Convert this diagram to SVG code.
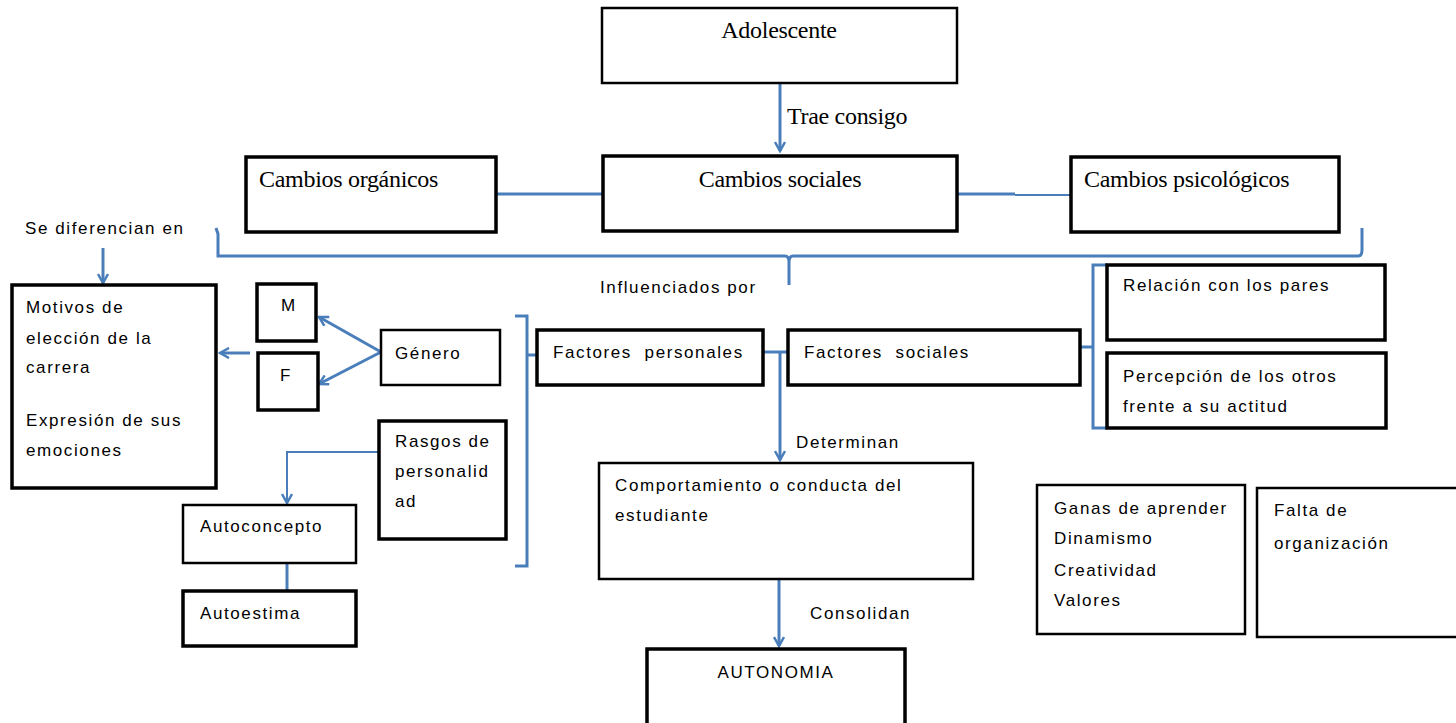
<svg xmlns="http://www.w3.org/2000/svg" width="1456" height="723" viewBox="0 0 1456 723">
<style>
.box{fill:#fff;stroke:#000;stroke-width:2.5}
.thick{stroke-width:3.5}
.serif{font-family:"Liberation Serif","Times New Roman",serif;font-size:24px;fill:#000;letter-spacing:-0.3px}
.sans{font-family:"Liberation Sans",Arial,sans-serif;font-size:17px;fill:#000;letter-spacing:1.6px}
.pre{white-space:pre}
.con{fill:none;stroke:#4a7ebb;stroke-width:3}
.thin{stroke-width:2}
</style>
<defs>
<marker id="arr" viewBox="0 0 12 12" refX="10" refY="6" markerWidth="12" markerHeight="12" markerUnits="userSpaceOnUse" orient="auto">
<path d="M1,1 L10,6 L1,11" fill="none" stroke="#4a7ebb" stroke-width="2.5"/>
</marker>
</defs>
<rect width="1456" height="723" fill="#fff"/>
<g id="connectors">
<path class="con" d="M780,84 V151" marker-end="url(#arr)"/>
<path class="con" d="M496,194 H602"/>
<path class="con" d="M957,194 H1015"/>
<path class="con thin" d="M1015,195 H1071"/>
<path class="con" d="M216,228 L218,234 V256 H785 Q789,256 789,262 V285 M789,262 Q789,256 793,256 H1358 Q1362,256 1362,250 V228"/>
<path class="con" d="M103,248 V283" marker-end="url(#arr)"/>
<path class="con" d="M250,353 H220" marker-end="url(#arr)"/>
<path class="con" d="M381,352 L319,317" marker-end="url(#arr)"/>
<path class="con" d="M381,352 L319,384" marker-end="url(#arr)"/>
<path class="con thin" d="M380,452 H287 V503" marker-end="url(#arr)"/>
<path class="con" d="M287,563 V590"/>
<path class="con" d="M515,316 H527 V566 H515 M527,355 H538"/>
<path class="con" d="M763,352 H788"/>
<path class="con" d="M780,352 V460" marker-end="url(#arr)"/>
<path class="con" d="M779,579 V646" marker-end="url(#arr)"/>
<path class="con" d="M1107,265 H1093 V428 H1107 M1093,347 H1080"/>
</g>
<g id="adolescente"><rect class="box" x="602" y="8" width="355" height="75"/><text class="serif" x="779" y="38" text-anchor="middle" font-size="25">Adolescente</text></g>
<text class="serif" x="787" y="124">Trae consigo</text>
<g id="cambios-sociales"><rect class="box thick" x="603" y="156" width="354" height="75"/><text class="serif" x="780" y="187" text-anchor="middle">Cambios sociales</text></g>
<g id="cambios-organicos"><rect class="box thick" x="246" y="157" width="250" height="75"/><text class="serif" x="259" y="187">Cambios orgánicos</text></g>
<g id="cambios-psicologicos"><rect class="box thick" x="1071" y="157" width="268" height="75"/><text class="serif" x="1084" y="187">Cambios psicológicos</text></g>
<text class="sans" x="600" y="293">Influenciados por</text>
<text class="sans" x="25" y="234">Se diferencian en</text>
<g id="motivos"><rect class="box thick" x="12" y="285" width="204" height="203"/>
<text class="sans" x="26" y="313">Motivos de</text><text class="sans" x="26" y="344">elección de la</text><text class="sans" x="26" y="373">carrera</text><text class="sans" x="26" y="426">Expresión de sus</text><text class="sans" x="26" y="456">emociones</text></g>
<g id="m"><rect class="box thick" x="257" y="284" width="59" height="57"/><text class="sans" x="281" y="311">M</text></g>
<g id="f"><rect class="box thick" x="258" y="353" width="60" height="57"/><text class="sans" x="280" y="381">F</text></g>
<g id="genero"><rect class="box" x="381" y="330" width="119" height="55"/><text class="sans" x="395" y="359">Género</text></g>
<g id="rasgos"><rect class="box thick" x="379" y="421" width="127" height="118"/><text class="sans" x="395" y="447">Rasgos de</text><text class="sans" x="395" y="477">personalid</text><text class="sans" x="395" y="507">ad</text></g>
<g id="autoconcepto"><rect class="box" x="183" y="505" width="173" height="58"/><text class="sans" x="200" y="532">Autoconcepto</text></g>
<g id="autoestima"><rect class="box thick" x="183" y="591" width="173" height="55"/><text class="sans" x="200" y="619">Autoestima</text></g>
<g id="factores-personales"><rect class="box thick" x="537" y="330" width="226" height="55"/><text class="sans pre" x="553" y="358">Factores  personales</text></g>
<g id="factores-sociales"><rect class="box thick" x="788" y="330" width="292" height="55"/><text class="sans pre" x="804" y="358">Factores  sociales</text></g>
<text class="sans" x="796" y="448">Determinan</text>
<g id="comportamiento"><rect class="box" x="599" y="463" width="374" height="116"/><text class="sans" x="615" y="491">Comportamiento o conducta del</text><text class="sans" x="615" y="521">estudiante</text></g>
<text class="sans" x="810" y="619">Consolidan</text>
<g id="autonomia"><rect class="box thick" x="647" y="649" width="258" height="80"/><text class="sans" x="776" y="678" text-anchor="middle">AUTONOMIA</text></g>
<g id="relacion"><rect class="box thick" x="1107" y="265" width="278" height="75"/><text class="sans" x="1123" y="291">Relación con los pares</text></g>
<g id="percepcion"><rect class="box thick" x="1107" y="353" width="279" height="75"/><text class="sans" x="1123" y="382">Percepción de los otros</text><text class="sans" x="1123" y="412">frente a su actitud</text></g>
<g id="ganas"><rect class="box" x="1037" y="485" width="208" height="149"/><text class="sans" x="1054" y="514">Ganas de aprender</text><text class="sans" x="1054" y="544">Dinamismo</text><text class="sans" x="1054" y="576">Creatividad</text><text class="sans" x="1054" y="606">Valores</text></g>
<g id="falta"><rect class="box" x="1257" y="488" width="205" height="149"/><text class="sans" x="1274" y="516">Falta de</text><text class="sans" x="1274" y="549">organización</text></g>
</svg>
